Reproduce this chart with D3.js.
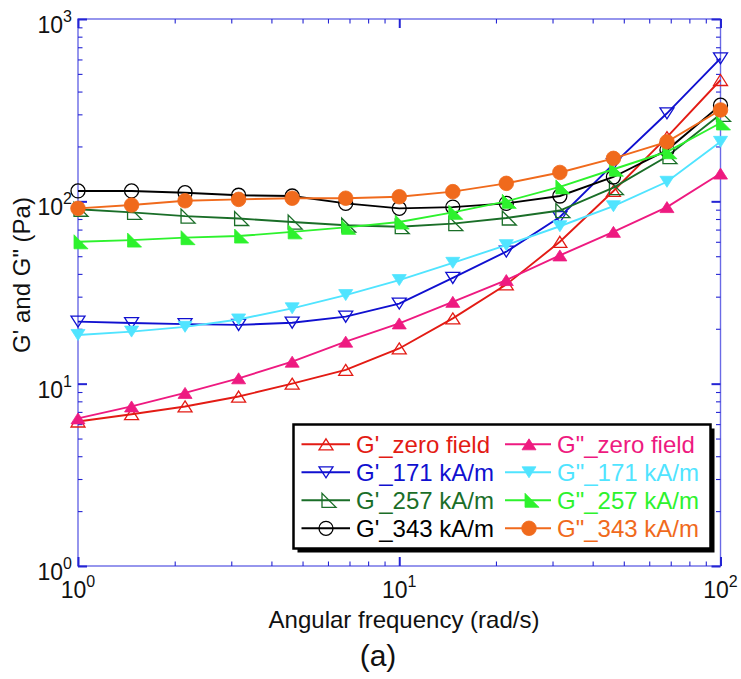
<!DOCTYPE html>
<html>
<head>
<meta charset="utf-8">
<script src="https://cdn.jsdelivr.net/npm/d3@7"></script>
<style>
  html, body { margin: 0; padding: 0; background: #fff; }
  svg { display: block; font-family: "Liberation Sans", Arial, Helvetica, sans-serif; }
</style>
</head>
<body>
<svg id="chart" width="741" height="679"></svg>
<script>
// Angular frequency sweep (rad/s)
const frequency = [1, 1.468, 2.154, 3.162, 4.642, 6.813, 10, 14.68, 21.54, 31.62, 46.42, 68.13, 100];

// Storage modulus G' (Pa)
const gPrimeZero = [6.2, 6.8, 7.5, 8.5, 10.0, 11.9, 15.6, 22.8, 35, 60, 114, 225, 463];
const gPrime171  = [21.9, 21.5, 21.2, 21.0, 21.6, 23.3, 27.5, 38, 53, 82, 160, 304, 608];
const gPrime257  = [90.5, 87, 83, 80.5, 77, 74, 72.6, 75.5, 81, 89, 119, 176, 300];
const gPrime343  = [114, 114, 111.5, 108, 107, 97.5, 91.5, 93, 97.5, 107, 136, 191, 337];

// Loss modulus G'' (Pa)
const gDoubleZero = [6.45, 7.5, 8.9, 10.7, 13.2, 17.0, 21.4, 28.1, 37, 50.5, 68, 93, 142];
const gDouble171  = [18.5, 19.3, 20.5, 22.5, 25.9, 30.6, 37, 46, 57.5, 73, 94, 128, 212];
const gDouble257  = [60, 61.3, 63.2, 64.5, 68, 72, 77, 87, 100, 120, 150, 187, 269];
const gDouble343  = [91.5, 95.4, 100.7, 102.5, 104, 104, 106, 113, 125.5, 144, 172, 212, 317];

// Legend labels
const seriesLabels = ["G'_zero field", "G'_171 kA/m", "G'_257 kA/m", "G'_343 kA/m",
                      "G\"_zero field", "G\"_171 kA/m", "G\"_257 kA/m", "G\"_343 kA/m"];

// Axis ticks
const xMajorTicks = [1, 10, 100];
const xMinorTicks = [2, 3, 4, 5, 6, 7, 8, 9, 20, 30, 40, 50, 60, 70, 80, 90];
const yMajorTicks = [1, 10, 100, 1000];
const yMinorTicks = [2, 3, 4, 5, 6, 7, 8, 9, 20, 30, 40, 50, 60, 70, 80, 90, 200, 300, 400, 500, 600, 700, 800, 900];
const xTickExponents = ["0", "1", "2"];
const yTickExponents = ["0", "1", "2", "3"];

const xTitle = "Angular frequency (rad/s)";
const yTitle = "G' and G\" (Pa)";
const panelTag = "(a)";

// ---- styling ----
const seriesStyle = [
  { color: "#e31b14", marker: "triUp",   filled: false },
  { color: "#1010d0", marker: "triDown", filled: false },
  { color: "#1a6e28", marker: "half",    filled: false },
  { color: "#000000", marker: "circle",  filled: false },
  { color: "#ee1a80", marker: "triUp",   filled: true },
  { color: "#50e4ff", marker: "triDown", filled: true },
  { color: "#2df22d", marker: "half",    filled: true },
  { color: "#f06a1c", marker: "circle",  filled: true }
];
const seriesValues = [gPrimeZero, gPrime171, gPrime257, gPrime343,
                      gDoubleZero, gDouble171, gDouble257, gDouble343];

(function draw() {
  const svg = d3.select("#chart");
  const pLeft = 78, pRight = 720.5, pTop = 19, pBottom = 566;

  const x = d3.scaleLog().domain([1, 100]).range([pLeft, pRight]);
  const y = d3.scaleLog().domain([1, 1000]).range([pBottom, pTop]);

  const axisColor = "#6a6ae6";
  const tickColor = "#2424d4";

  function styleAxis(g, width) {
    g.select(".domain").remove();
    g.selectAll(".tick line").attr("stroke", tickColor).attr("stroke-width", width);
    g.selectAll(".tick text").remove();
  }

  // plot frame
  svg.append("rect")
    .attr("x", pLeft).attr("y", pTop)
    .attr("width", pRight - pLeft).attr("height", pBottom - pTop)
    .attr("fill", "none").attr("stroke", axisColor).attr("stroke-width", 1.4);

  // inward ticks on all four sides
  const axes = [
    { gen: d3.axisBottom, scale: x, tr: `translate(0,${pBottom})`, major: xMajorTicks, minor: xMinorTicks },
    { gen: d3.axisTop,    scale: x, tr: `translate(0,${pTop})`,    major: xMajorTicks, minor: xMinorTicks },
    { gen: d3.axisLeft,   scale: y, tr: `translate(${pLeft},0)`,   major: yMajorTicks, minor: yMinorTicks },
    { gen: d3.axisRight,  scale: y, tr: `translate(${pRight},0)`,  major: yMajorTicks, minor: yMinorTicks }
  ];
  axes.forEach(a => {
    svg.append("g").attr("transform", a.tr)
      .call(a.gen(a.scale).tickValues(a.minor).tickSize(-4.5).tickFormat(""))
      .call(g => styleAxis(g, 1.1));
    svg.append("g").attr("transform", a.tr)
      .call(a.gen(a.scale).tickValues(a.major).tickSize(-9).tickFormat(""))
      .call(g => styleAxis(g, 2));
  });

  // tick labels with superscript exponents
  const xLab = svg.append("g").attr("font-size", 23).attr("fill", "#111");
  xMajorTicks.forEach((v, i) => {
    const t = xLab.append("text").attr("x", x(v)).attr("y", 598).attr("text-anchor", "middle");
    t.append("tspan").text("10");
    t.append("tspan").attr("font-size", 16).attr("dy", -11).text(xTickExponents[i]);
  });
  const yLab = svg.append("g").attr("font-size", 23).attr("fill", "#111");
  yMajorTicks.forEach((v, i) => {
    const t = yLab.append("text").attr("x", 72).attr("y", y(v) + 14).attr("text-anchor", "end");
    t.append("tspan").text("10");
    t.append("tspan").attr("font-size", 16).attr("dy", -11).text(yTickExponents[i]);
  });

  // axis titles
  svg.append("text").attr("x", 404).attr("y", 628).attr("text-anchor", "middle")
    .attr("font-size", 24).attr("fill", "#111").text(xTitle);
  svg.append("text").attr("transform", "translate(30,275) rotate(-90)").attr("text-anchor", "middle")
    .attr("font-size", 24).attr("fill", "#111").text(yTitle);
  svg.append("text").attr("x", 378).attr("y", 666).attr("text-anchor", "middle")
    .attr("font-size", 30).attr("fill", "#111").text(panelTag);

  // marker shapes
  function markerPath(kind) {
    switch (kind) {
      case "triUp":   return "M0,-5.5L7,5.5L-7,5.5Z";
      case "triDown": return "M-7,-5.5L7,-5.5L0,5.5Z";
      case "half":    return "M-4,-7L-4,7L10,7Z";
      default:        return null;
    }
  }
  function drawMarker(g, kind, filled, color, cx, cy) {
    const fill = filled ? color : "none";
    const sw = filled ? 0.8 : 1.3;
    if (kind === "circle") {
      g.append("circle").attr("cx", cx).attr("cy", cy).attr("r", filled ? 7.3 : 7)
        .attr("fill", fill).attr("stroke", color).attr("stroke-width", sw);
    } else {
      g.append("path").attr("d", markerPath(kind))
        .attr("transform", `translate(${cx},${cy})`)
        .attr("fill", fill).attr("stroke", color).attr("stroke-width", sw)
        .attr("stroke-linejoin", "miter");
    }
  }

  // data series
  const line = d3.line().x(d => x(d[0])).y(d => y(d[1]));
  const plot = svg.append("g");
  seriesValues.forEach((vals, i) => {
    const st = seriesStyle[i];
    const pts = frequency.map((f, j) => [f, vals[j]]);
    const g = plot.append("g");
    g.append("path").datum(pts).attr("d", line)
      .attr("fill", "none").attr("stroke", st.color).attr("stroke-width", 1.9);
    pts.forEach(p => drawMarker(g, st.marker, st.filled, st.color, x(p[0]), y(p[1])));
  });

  // legend
  const lg = svg.append("g");
  const lx = 293.5, ly = 424.5, lw = 417, lh = 124;
  lg.append("rect").attr("x", lx + 4).attr("y", ly + 4).attr("width", lw).attr("height", lh).attr("fill", "#000");
  lg.append("rect").attr("x", lx).attr("y", ly).attr("width", lw).attr("height", lh)
    .attr("fill", "#fff").attr("stroke", "#000").attr("stroke-width", 2.5);
  const rowY = [444.3, 472.3, 500.3, 528.3];
  const cols = [{ x0: 301.5, x1: 350, mx: 326, tx: 356 }, { x0: 505, x1: 551, mx: 529, tx: 557 }];
  seriesLabels.forEach((lab, i) => {
    const st = seriesStyle[i];
    const c = cols[i < 4 ? 0 : 1];
    const ry = rowY[i % 4];
    lg.append("line").attr("x1", c.x0).attr("x2", c.x1).attr("y1", ry).attr("y2", ry)
      .attr("stroke", st.color).attr("stroke-width", 1.9);
    drawMarker(lg, st.marker, st.filled, st.color, c.mx, ry);
    lg.append("text").attr("x", c.tx).attr("y", ry + 8.7).attr("font-size", 24)
      .attr("fill", st.color).text(lab);
  });
})();
</script>
</body>
</html>
